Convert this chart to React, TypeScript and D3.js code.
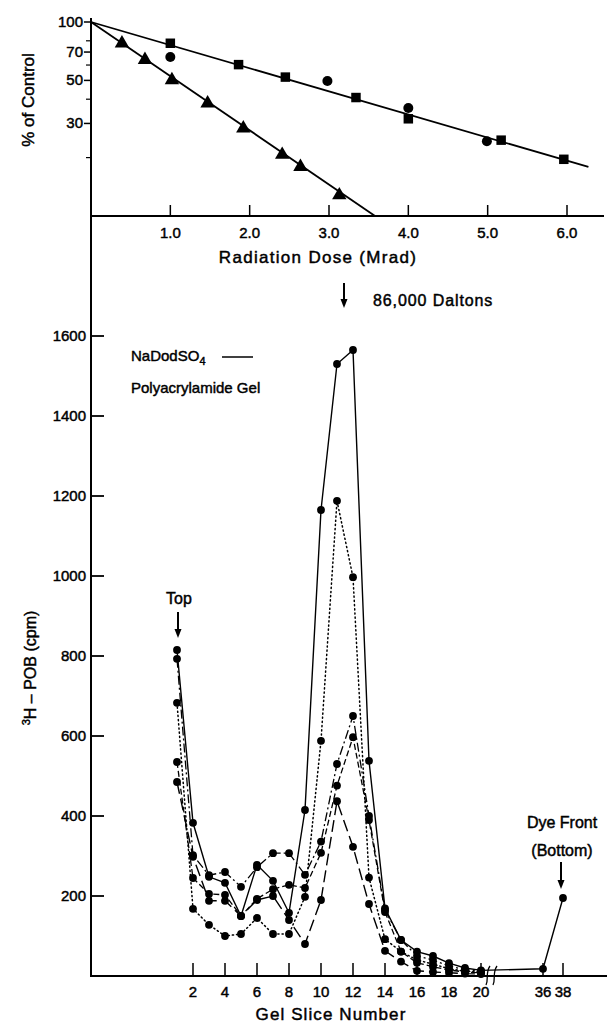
import React from "react";
import * as d3 from "d3";

const W = 607;
const H = 1027;
const FONT = "'Liberation Sans', Arial, sans-serif";

// ---------- upper panel: % of control vs radiation dose ----------
const squareDose = [1.0, 1.86, 2.45, 3.34, 4.0, 5.17, 5.96];
const squarePct = [77.7, 60.3, 52, 40.8, 31.7, 24.6, 19.6];
const circleDose = [1.0, 2.98, 4.0, 4.99];
const circlePct = [66, 49.6, 36, 24.3];
const triangleDose = [0.39, 0.68, 1.02, 1.47, 1.92, 2.41, 2.64, 3.13];
const trianglePct = [77.7, 63.9, 50.2, 38.1, 28.3, 20.7, 17.9, 12.8];
const fitSlowDose = [0, 6.27];
const fitSlowPct = [100, 17.9];
const fitFastDose = [0, 3.58];
const fitFastPct = [100, 10];
const doseTicks = [1, 2, 3, 4, 5, 6];
const pctLabelTicks = [100, 70, 50, 30];
const pctMinorTicks = [80, 60, 40, 20];

// ---------- lower panel: gel slice profiles ----------
const slices = [1, 2, 3, 4, 5, 6, 7, 8, 9, 10, 11, 12, 13, 14, 15, 16, 17, 18, 19, 20];
const cpmSolid = [815, 383, 248, 233, 150, 278, 238, 158, 415, 1165, 1530, 1565, 538, 169, 90, 61, 50, 32, 20, 14];
const dyeSlices = [36, 38];
const cpmSolidDye = [18, 195];
const cpmDotted = [683, 168, 128, 100, 105, 145, 105, 105, 198, 588, 1188, 997, 246, 92, 61, 40, 30, 18, 12, 10];
const cpmDashDot = [793, 302, 252, 260, 223, 272, 307, 307, 253, 336, 530, 650, 400, 165, 90, 50, 40, 25, 16, 12];
const cpmDashed = [535, 245, 205, 203, 150, 193, 217, 228, 220, 308, 476, 597, 390, 160, 61, 33, 23, 15, 10, 8];
const cpmLongDash = [485, 298, 188, 188, 150, 190, 200, 140, 80, 190, 437, 323, 180, 63, 36, 13, 10, 8, 6, 5];
const cpmTicks = [200, 400, 600, 800, 1000, 1200, 1400, 1600];
const sliceTicks = [2, 4, 6, 8, 10, 12, 14, 16, 18, 20, 36, 38];

const xTop = d3.scaleLinear().domain([0, 6]).range([91, 567]);
const yTop = d3.scaleLog().domain([10, 100]).range([216, 22]);

// the slice axis is broken between 20 and 36
const xBot = d3.scaleLinear().domain([0, 20, 36, 38]).range([161, 481, 543, 563]);
const yBot = d3.scaleLinear().domain([0, 1600]).range([976, 336]);

const zip = (xs: number[], ys: number[]) => xs.map((x, i) => [x, ys[i]] as [number, number]);

const topLine = d3
  .line<[number, number]>()
  .x((d) => xTop(d[0]))
  .y((d) => yTop(d[1]));
const botLine = d3
  .line<[number, number]>()
  .x((d) => xBot(d[0]))
  .y((d) => yBot(d[1]));

const profiles = [
  { key: "solid", data: zip(slices, cpmSolid).concat(zip(dyeSlices, cpmSolidDye)), dash: undefined as string | undefined, width: 1.4 },
  { key: "dotted", data: zip(slices, cpmDotted), dash: "1.2,3", width: 1.5 },
  { key: "dashdot", data: zip(slices, cpmDashDot), dash: "9,3,2,3", width: 1.3 },
  { key: "dashed", data: zip(slices, cpmDashed), dash: "6,3", width: 1.3 },
  { key: "longdash", data: zip(slices, cpmLongDash), dash: "12,5", width: 1.4 },
];

const triPath = d3.symbol().type(d3.symbolTriangle).size(90)() as string;
const sqPath = d3.symbol().type(d3.symbolSquare).size(90)() as string;

function Arrow({ x, y1, y2 }: { x: number; y1: number; y2: number }) {
  return (
    <g>
      <line x1={x} x2={x} y1={y1} y2={y2 - 7} stroke="#000" strokeWidth={2} />
      <path d={`M${x - 3.5},${y2 - 9} L${x + 3.5},${y2 - 9} L${x},${y2} Z`} fill="#000" />
    </g>
  );
}

export default function App() {
  // a light outline gives the lettering its heavier, drafted look
  const txt = { fontFamily: FONT, fill: "#000", stroke: "#000", strokeWidth: 0.45 } as const;
  return (
    <svg
      width={W}
      height={H}
      viewBox={`0 0 ${W} ${H}`}
      style={{ position: "absolute", left: 0, top: 0, background: "#fff" }}
    >
      <rect width={W} height={H} fill="#fff" />

      {/* shared vertical axis line */}
      <line x1={91} x2={91} y1={18} y2={977} stroke="#000" strokeWidth={2} />

      {/* ===== upper panel ===== */}
      <line x1={91} x2={604} y1={216} y2={216} stroke="#000" strokeWidth={1.8} />
      {doseTicks.map((t) => (
        <g key={`dt${t}`}>
          <line x1={xTop(t)} x2={xTop(t)} y1={216} y2={205} stroke="#000" strokeWidth={1.5} />
          <text x={xTop(t)} y={238} textAnchor="middle" fontSize={15} {...txt}>
            {d3.format(".1f")(t)}
          </text>
        </g>
      ))}
      {pctLabelTicks.map((t) => (
        <g key={`pt${t}`}>
          <line x1={84} x2={91} y1={yTop(t)} y2={yTop(t)} stroke="#000" strokeWidth={1.5} />
          <text x={83} y={yTop(t) + 5} textAnchor="end" fontSize={15} {...txt}>
            {t}
          </text>
        </g>
      ))}
      {pctMinorTicks.map((t) => (
        <line key={`pm${t}`} x1={86} x2={91} y1={yTop(t)} y2={yTop(t)} stroke="#000" strokeWidth={1.2} />
      ))}
      <text transform={`translate(34,100) rotate(-90)`} textAnchor="middle" fontSize={17} {...txt}>
        % of Control
      </text>
      <text x={318} y={263} textAnchor="middle" fontSize={17} letterSpacing={1.3} {...txt}>
        Radiation Dose (Mrad)
      </text>

      <path d={topLine(zip(fitSlowDose, fitSlowPct)) as string} fill="none" stroke="#000" strokeWidth={1.8} />
      <path d={topLine(zip(fitFastDose, fitFastPct)) as string} fill="none" stroke="#000" strokeWidth={1.8} />
      {zip(squareDose, squarePct).map(([d, p], i) => (
        <path key={`sq${i}`} d={sqPath} transform={`translate(${xTop(d)},${yTop(p)})`} fill="#000" />
      ))}
      {zip(circleDose, circlePct).map(([d, p], i) => (
        <circle key={`ci${i}`} cx={xTop(d)} cy={yTop(p)} r={5} fill="#000" />
      ))}
      {zip(triangleDose, trianglePct).map(([d, p], i) => (
        <path key={`tr${i}`} d={triPath} transform={`translate(${xTop(d)},${yTop(p)})`} fill="#000" />
      ))}

      {/* ===== lower panel ===== */}
      <line x1={91} x2={607} y1={976} y2={976} stroke="#000" strokeWidth={2} />
      {cpmTicks.map((t) => (
        <g key={`ct${t}`}>
          <line x1={91} x2={104} y1={yBot(t)} y2={yBot(t)} stroke="#000" strokeWidth={1.8} />
          <text x={86} y={yBot(t) + 5} textAnchor="end" fontSize={15} {...txt}>
            {t}
          </text>
        </g>
      ))}
      {sliceTicks.map((t) => (
        <g key={`st${t}`}>
          <line x1={xBot(t)} x2={xBot(t)} y1={976} y2={963} stroke="#000" strokeWidth={1.5} />
          <text x={xBot(t)} y={997} textAnchor="middle" fontSize={15} {...txt}>
            {t}
          </text>
        </g>
      ))}
      {/* axis break */}
      <path d="M486,985 C489,979 485,973 490,966" fill="none" stroke="#000" strokeWidth={1.3} />
      <path d="M493,985 C496,979 492,973 497,966" fill="none" stroke="#000" strokeWidth={1.3} />

      <text x={331} y={1020} textAnchor="middle" fontSize={17} letterSpacing={1.1} {...txt}>
        Gel Slice Number
      </text>
      <text transform={`translate(36,668) rotate(-90)`} textAnchor="middle" fontSize={16} {...txt}>
        <tspan fontSize={11} dy={-6}>3</tspan>
        <tspan dy={6}>H – POB (cpm)</tspan>
      </text>

      {profiles.map((p) => (
        <g key={p.key}>
          <path
            d={botLine(p.data) as string}
            fill="none"
            stroke="#000"
            strokeWidth={p.width}
            strokeDasharray={p.dash}
            strokeLinecap={p.key === "dotted" ? "round" : "butt"}
          />
          {p.data.map(([s, v], i) => (
            <circle key={i} cx={xBot(s)} cy={yBot(v)} r={3.9} fill="#000" />
          ))}
        </g>
      ))}

      {/* annotations */}
      <Arrow x={344} y1={283} y2={308} />
      <text x={373} y={306} fontSize={16} letterSpacing={0.9} {...txt}>
        86,000  Daltons
      </text>
      <text x={131} y={361} fontSize={15} {...txt}>
        NaDodSO<tspan fontSize={11} dy={4}>4</tspan>
      </text>
      <line x1={222} x2={253} y1={357} y2={357} stroke="#000" strokeWidth={1.5} />
      <text x={131} y={393} fontSize={15} {...txt}>
        Polyacrylamide Gel
      </text>

      <text x={179} y={604} textAnchor="middle" fontSize={16} {...txt}>
        Top
      </text>
      <Arrow x={178} y1={612} y2={638} />

      <text x={562} y={828} textAnchor="middle" fontSize={16} {...txt}>
        Dye Front
      </text>
      <text x={562} y={856} textAnchor="middle" fontSize={16} {...txt}>
        (Bottom)
      </text>
      <Arrow x={561} y1={862} y2={889} />
    </svg>
  );
}
